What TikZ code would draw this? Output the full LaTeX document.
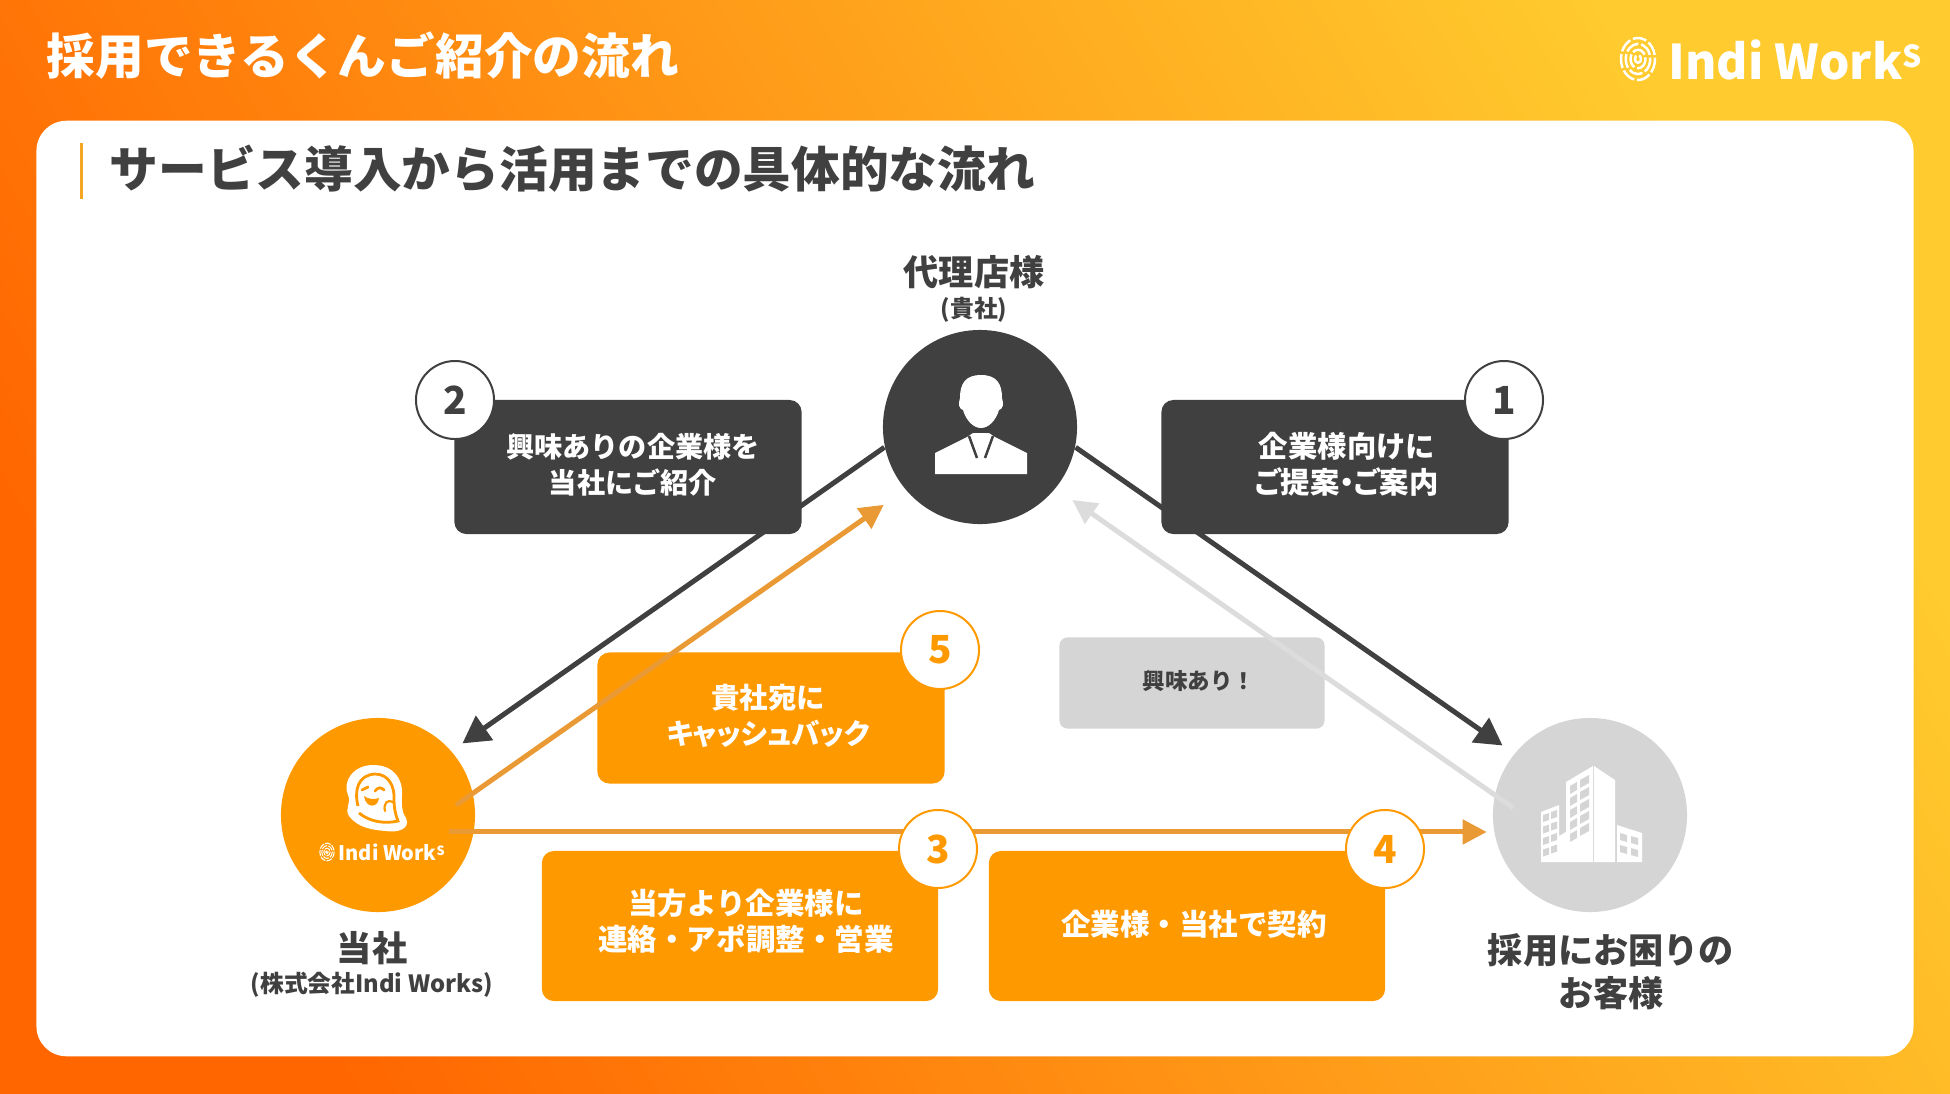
\documentclass[tikz,border=0pt]{standalone}
\usepackage{fontspec}
\setmainfont{Noto Sans CJK JP}
\newfontfamily\paltfont[RawFeature=+palt]{Noto Sans CJK JP}
\usetikzlibrary{arrows.meta}
\definecolor{inkdark}{HTML}{404040}
\definecolor{brandorange}{HTML}{FF9900}
\definecolor{linkorange}{HTML}{EA9A35}
\definecolor{softgray}{HTML}{D5D5D5}
\definecolor{linkgray}{HTML}{DCDCDC}
\definecolor{barorange}{HTML}{F5A623}
\definecolor{headerlow}{HTML}{FF6600}
\definecolor{headermid}{HTML}{FF9F0A}
\definecolor{headerhigh}{HTML}{FFCB2E}
\newcommand{\printmark}[3]{%
  \foreach \ring in {1,0.72,0.44,0.18}
    \draw[white, line width=#3*0.7pt, dash pattern=on #3*4pt off #3*0.8pt] (#1,#2) ellipse [x radius=#3*17*\ring, y radius=#3*21*\ring];
}
\begin{document}
\begin{tikzpicture}[
    x=0.01cm, y=-0.01cm,
    every node/.style={font=\bfseries, text=inkdark},
    card/.style={rectangle, fill=white, draw=none, rounded corners=0.3cm},
    hub/.style={circle, minimum size=1.94cm, inner sep=0pt, draw=none},
    darkbox/.style={rectangle, fill=inkdark, rounded corners=0.12cm, minimum width=3.47cm, minimum height=1.34cm},
    cashbox/.style={rectangle, fill=brandorange, rounded corners=0.12cm, minimum width=3.47cm, minimum height=1.31cm},
    salesbox/.style={rectangle, fill=brandorange, rounded corners=0.12cm, minimum width=3.96cm, minimum height=1.5cm},
    grayoverlay/.style={rectangle, fill=softgray, rounded corners=0.08cm, minimum width=2.65cm, minimum height=0.91cm},
    boxtext/.style={font=\fontsize{8}{10.2}\selectfont\bfseries, text=white, align=center},
    widetext/.style={boxtext, font=\fontsize{8.4}{10.2}\selectfont\bfseries},
    badge/.style={circle, fill=white, line width=0.02cm, minimum size=0.78cm, inner sep=0pt, font=\fontsize{11}{13}\selectfont\bfseries},
    darkbadge/.style={badge, draw=inkdark, text=inkdark},
    orangebadge/.style={badge, draw=brandorange, text=brandorange},
    caption/.style={font=\fontsize{10}{12.2}\selectfont\bfseries, align=center},
    subcaption/.style={font=\fontsize{6.75}{9}\selectfont\bfseries},
    darkarrow/.style={-{Triangle[length=0.27cm, width=0.29cm]}, line width=0.05cm, draw=inkdark},
    orangearrow/.style={-{Triangle[length=0.24cm, width=0.24cm]}, line width=0.05cm, draw=linkorange},
    grayarrow/.style={-{Triangle[length=0.24cm, width=0.24cm]}, line width=0.05cm, draw=linkgray}
]
\useasboundingbox (0,0) rectangle (1950,1093);

% -------------------------
% Background and Titles
% -------------------------
    \shade[bottom color=headerlow, middle color=headermid, top color=headerhigh, shading angle=-60] (0,0) rectangle (1950,1093);
    \node[card, minimum width=18.76cm, minimum height=9.35cm] (sheet) at (975,588.5) {};
    \node[anchor=west, inner sep=0pt, text=white, font=\fontsize{13.85}{16}\selectfont\bfseries] (headline) at (46,56) {採用できるくんご紹介の流れ};
    \fill[barorange] (80,143) rectangle (83,199);
    \node[anchor=west, inner sep=0pt, font=\fontsize{13.85}{16}\selectfont\bfseries] (subhead) at (109,169) {サービス導入から活用までの具体的な流れ};

% Logo top right
    \printmark{1638}{59}{1}
    \node[anchor=west, inner sep=0pt, text=white, font=\fontsize{13.6}{17}\selectfont\bfseries] (toplogo) at (1668,60) {Indi Work\raisebox{0.12cm}{\fontsize{8.6}{10}\selectfont S}};

% -------------------------
% Three Parties
% -------------------------
    \node[hub, fill=inkdark] (agency) at (980,427) {};
    \node[hub, fill=brandorange] (tousha) at (378,815) {};
    \node[hub, fill=softgray] (client) at (1590,815) {};

    \node[caption] (agencyname) at (974,272) {代理店様};
    \node[subcaption] (agencysub) at (974,310) {(貴社)};
    \node[caption] (toushaname) at (372,948) {当社};
    \node[subcaption] (toushasub) at (372,985) {(株式会社Indi Works)};
    \node[caption] (clientname) at (1611,972) {採用にお困りの\\お客様};

% Person icon
    \fill[white] (981,375) .. controls (997,375) and (1002,384) .. (1002,398) .. controls (1004,404) and (1003,409) .. (999,410) .. controls (996,420) and (989,428) .. (981,428) .. controls (973,428) and (966,420) .. (963,410) .. controls (959,409) and (958,404) .. (960,398) .. controls (960,384) and (965,375) .. (981,375) -- cycle;
    \fill[white] (935,474) -- (935,453) -- (967,437) -- (973,433) -- (989,433) -- (995,437) -- (1027,453) -- (1027,474) -- cycle;
    \draw[inkdark, line width=0.025cm] (969,436) -- (977,458);
    \draw[inkdark, line width=0.025cm] (993,436) -- (985,458);

% Building icon
    \fill[white] (1541,862) -- (1541,812) -- (1559,805) -- (1559,836) -- (1566,832) -- (1566,782) -- (1593,766) -- (1593,862) -- cycle;
    \fill[white] (1594,766) -- (1615,780) -- (1615,862) -- (1594,862) -- cycle;
    \fill[white] (1617,825) -- (1642,833) -- (1642,862) -- (1617,862) -- cycle;
    \foreach \row in {0,...,4} {
      \fill[softgray] (1570,{786+12*\row}) -- (1577,{782+12*\row}) -- (1577,{790+12*\row}) -- (1570,{794+12*\row}) -- cycle;
      \fill[softgray] (1580,{780+12*\row}) -- (1589,{775+12*\row}) -- (1589,{783+12*\row}) -- (1580,{788+12*\row}) -- cycle;
    }
    \foreach \row in {0,...,3} {
      \fill[softgray] (1543,{815+11.5*\row}) -- (1549,{813+11.5*\row}) -- (1549,{820+11.5*\row}) -- (1543,{822+11.5*\row}) -- cycle;
      \fill[softgray] (1551,{812+11.5*\row}) -- (1557,{810+11.5*\row}) -- (1557,{817+11.5*\row}) -- (1551,{819+11.5*\row}) -- cycle;
    }
    \foreach \row in {0,1} {
      \fill[softgray] (1620,{833+12*\row}) -- (1627,{835+12*\row}) -- (1627,{842+12*\row}) -- (1620,{840+12*\row}) -- cycle;
      \fill[softgray] (1631,{836+12*\row}) -- (1638,{838+12*\row}) -- (1638,{845+12*\row}) -- (1631,{843+12*\row}) -- cycle;
    }

% Mascot and small logo
    \fill[white] (373,765) .. controls (393,765) and (403,778) .. (402,795) .. controls (402,805) and (401,811) .. (406,818) .. controls (411,829) and (397,833) .. (386,831) .. controls (373,830) and (358,828) .. (349,816) .. controls (344,808) and (352,803) .. (348,795) .. controls (342,782) and (353,765) .. (373,765) -- cycle;
    \draw[brandorange, line width=0.028cm] (358,806) .. controls (354,790) and (358,775) .. (375,774) .. controls (389,774) and (395,787) .. (394,800) .. controls (394,807) and (395,813) .. (398,821) .. controls (385,824) and (370,822) .. (359,813);
    \fill[brandorange] (364,796) .. controls (368,799) and (374,800) .. (379,798) .. controls (378,808) and (366,809) .. (364,796) -- cycle;
    \draw[brandorange, line width=0.028cm, line cap=round] (362,790) -- (368,787);
    \draw[brandorange, line width=0.028cm, line cap=round] (375,791) .. controls (378,787) and (381,787) .. (384,790);
    \draw[brandorange, line width=0.022cm, line cap=round] (385,811) .. controls (383,803) and (388,799) .. (393,802);
    \printmark{327}{852}{0.42}
    \node[anchor=west, inner sep=0pt, text=white, font=\fontsize{5.7}{7}\selectfont\bfseries] (innerlogo) at (338,852) {Indi Work\raisebox{0.05cm}{\fontsize{3.6}{4}\selectfont S}};

% -------------------------
% Arrows & Boxes
% -------------------------
    \draw[darkarrow, shorten >=0.13cm] (agency.192.5) -- (tousha.41.6);
    \draw[darkarrow, shorten >=0.14cm] (agency.-12.5) -- (client.141.2);

    \node[darkbox] (introbox) at (628,467) {};
    \node[boxtext] (introtext) at (633,465) {興味ありの企業様を\\当社にご紹介};
    \node[darkbox] (proposalbox) at (1335,467) {};
    \node[boxtext, font=\fontsize{8.35}{10.2}\selectfont\bfseries] (proposaltext) at (1347,464) {企業様向けに\\{\paltfont ご提案・ご案内}};
    \node[cashbox] (cashbox) at (771,718) {};
    \node[boxtext, font=\fontsize{8.1}{10.2}\selectfont\bfseries] (cashtext) at (768,716) {貴社宛に\\{\paltfont キャッシュバック}};
    \node[grayoverlay] (interestbox) at (1192,683) {};
    \node[font=\fontsize{6.4}{8}\selectfont\bfseries] (interesttext) at (1199,681) {興味あり！};
    \node[salesbox] (salesbox) at (740,926) {};
    \node[widetext] (salestext) at (746,921) {当方より企業様に\\連絡・アポ調整・営業};
    \node[salesbox] (contractbox) at (1187,926) {};
    \node[widetext] (contracttext) at (1194,924) {企業様・当社で契約};

    \draw[orangearrow, shorten <=-0.21cm, shorten >=0.26cm] (tousha.13.7) -- (agency.220.4);
    \draw[orangearrow, shorten <=-0.25cm, shorten >=0.07cm] (tousha.-10.7) -- (client.190.7);
    \draw[grayarrow, shorten <=-0.23cm, shorten >=0.2cm] (client.168) -- (agency.-39.6);

% -------------------------
% Step Badges
% -------------------------
    \node[darkbadge] (step1) at (1504,400) {1};
    \node[darkbadge] (step2) at (455,400) {2};
    \node[orangebadge] (step3) at (938,849) {3};
    \node[orangebadge] (step4) at (1385,849) {4};
    \node[orangebadge] (step5) at (940,650) {5};
\end{tikzpicture}
\end{document}
